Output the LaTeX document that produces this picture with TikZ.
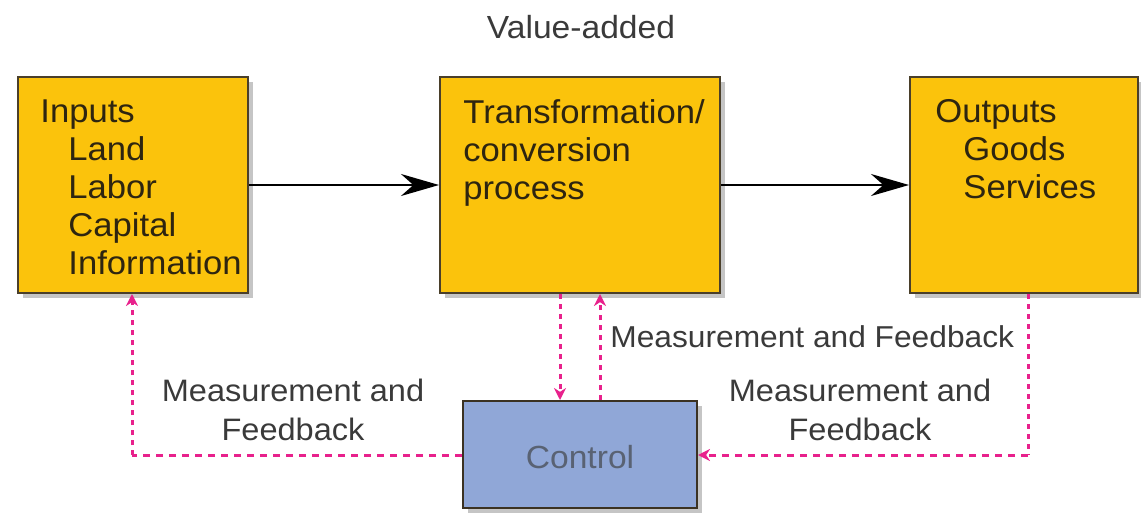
\documentclass[tikz,border=0pt]{standalone}
\usepackage{fontspec}
\setmainfont{Liberation Sans}[FakeStretch=1.05]
\usetikzlibrary{arrows.meta,shadows}
\definecolor{boxyellow}{HTML}{FBC30C}
\definecolor{boxedge}{HTML}{4A3F2A}
\definecolor{ctrlblue}{HTML}{90A7D7}
\definecolor{fbpink}{HTML}{E8218C}
\definecolor{labelgray}{HTML}{3A3A3A}
\definecolor{ctrltext}{HTML}{596273}
\definecolor{boxink}{HTML}{2E2510}
\tikzset{
  ybox/.style={draw=boxedge, line width=1pt, fill=boxyellow, inner sep=0pt,
    drop shadow={shadow xshift=2.5pt, shadow yshift=-2.5pt, fill=black!45, opacity=0.5}},
  cbox/.style={draw=boxedge!80!black, line width=1pt, fill=ctrlblue, inner sep=0pt,
    drop shadow={shadow xshift=2.5pt, shadow yshift=-2.5pt, fill=black!45, opacity=0.5}},
  boxtext/.style={anchor=north west, inner sep=0pt, align=left, text=boxink,
    font=\fontsize{16.5}{19}\selectfont},
  lbl/.style={inner sep=0pt, text=labelgray, font=\fontsize{15.5}{19.5}\selectfont, align=center},
  flow/.style={line width=1pt, -{Stealth[length=19pt,width=11pt]}},
  fbline/.style={fbpink, line width=1.5pt},
  hdash/.style={dash pattern=on 3.5pt off 3pt},
  vdash/.style={dash pattern=on 2.5pt off 2.5pt},
  pinktip/.style={-{Stealth[length=6pt,width=6pt]}},
}
\begin{document}
\begin{tikzpicture}[x=0.5pt,y=-0.5pt]
\useasboundingbox (0,0) rectangle (1141,514);
% boxes
\node[ybox, minimum width=115pt, minimum height=108pt] (in) at (133,185) {};
\node[ybox, minimum width=140pt, minimum height=108pt] (tr) at (580,185) {};
\node[ybox, minimum width=114pt, minimum height=108pt] (out) at (1024,185) {};
\node[cbox, minimum width=117pt, minimum height=53.5pt] (ctrl) at (580,454.5) {};
% texts
\node[boxtext] (intext) at (40,99) {Inputs\\\hspace*{14pt}Land\\\hspace*{14pt}Labor\\\hspace*{14pt}Capital\\\hspace*{14pt}Information};
\node[boxtext] (trtext) at (463,99) {Transformation/\\conversion\\process};
\node[boxtext] (outtext) at (935,99) {Outputs\\\hspace*{14pt}Goods\\\hspace*{14pt}Services};
\node[lbl, font=\fontsize{16}{19.5}\selectfont] (va) at (581,27) {Value-added};
\node[inner sep=0pt, text=ctrltext, font=\fontsize{16}{19}\selectfont] (ctrltxt) at (580,457) {Control};
\node[lbl, anchor=west, font=\fontsize{15.1}{19.5}\selectfont] (mf1) at (610,337) {Measurement and Feedback};
\node[lbl] (mf2) at (293,410) {Measurement and\\Feedback};
\node[lbl] (mf3) at (860,410) {Measurement and\\Feedback};
% solid flows
\draw[flow] (in.east) -- (tr.west);
\draw[flow] (tr.east) -- (out.west);
% feedback
\coordinate (dx) at (560,0);
\coordinate (ux) at (600,0);
\coordinate (rc) at (1028,455);
\coordinate (lc) at (132,455);
\draw[fbline, vdash, pinktip] (tr.south -| dx) -- (ctrl.north -| dx);
\draw[fbline, vdash, pinktip] (ctrl.north -| ux) -- (tr.south -| ux);
\draw[fbline, vdash] (out.south -| rc) -- (rc);
\draw[fbline, hdash, pinktip] (rc) -- (ctrl.east |- rc);
\draw[fbline, hdash] (ctrl.west |- lc) -- (lc);
\draw[fbline, vdash, pinktip] (lc) -- (in.south -| lc);
\end{tikzpicture}
\end{document}
